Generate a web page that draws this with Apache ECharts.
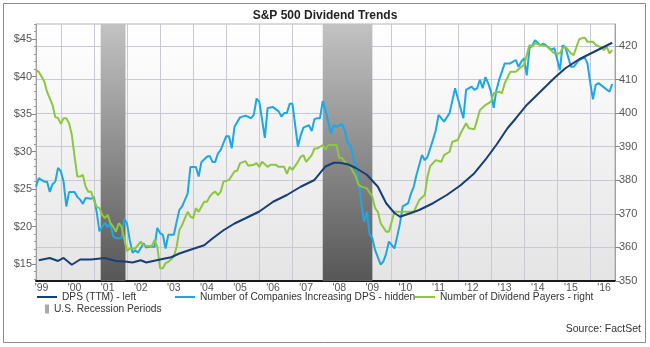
<!DOCTYPE html>
<html><head><meta charset="utf-8">
<script src="https://cdn.jsdelivr.net/npm/echarts@6/dist/echarts.min.js"></script>
<style>html,body{margin:0;padding:0;background:#fff}#c{width:650px;height:347px}</style>
</head><body><div id="c"></div>
<script>
// ---- Data ----
const titleText = 'S&P 500 Dividend Trends';
const sourceText = 'Source: FactSet';
const years = [1999,2000,2001,2002,2003,2004,2005,2006,2007,2008,2009,2010,2011,2012,2013,2014,2015,2016];
const leftTicks = [15,20,25,30,35,40,45];
const rightTicks = [350,360,370,380,390,400,410,420];
const recessionStarts = ['2001-03-15','2007-12-01'];
const recessionEnds = ['2001-12-15','2009-06-01'];

const dpsDates = ['1999-05','1999-09','1999-12','2000-02','2000-05','2000-08','2000-12','2001-05','2001-09',
 '2002-01','2002-03','2002-06','2002-08','2003-01','2003-05','2003-08','2003-12','2004-05','2004-08','2004-12',
 '2005-04','2005-08','2006-01','2006-06','2006-11','2007-04','2007-09','2007-11','2008-01','2008-04','2008-06',
 '2008-09','2008-12','2009-04','2009-08','2009-11','2010-02','2010-04','2010-08','2010-11','2011-04','2011-09',
 '2012-02','2012-07','2012-11','2013-03','2013-07','2013-10','2014-02','2014-07','2014-12','2015-04','2015-09',
 '2016-03','2016-09'];
const dpsValues = [15.5,15.8,15.4,15.8,14.9,15.6,15.6,15.8,15.4,
 15.3,15.2,15.5,15.2,15.6,15.9,16.4,16.9,17.5,18.4,19.5,
 20.4,21.1,22.0,23.3,24.2,25.3,26.2,27.1,28.0,28.5,28.5,
 28.3,27.8,26.9,25.3,23.1,21.8,21.3,21.8,22.2,23.1,24.2,
 25.5,27.1,28.9,30.9,33.1,34.4,36.2,38.0,39.8,41.1,42.3,
 43.4,44.5];

const incDates = [
 '1999-04','1999-05','1999-07','1999-08','1999-09','1999-10','1999-11','1999-12',
 '2000-01','2000-02','2000-03','2000-04','2000-06','2000-07','2000-08','2000-09','2000-10','2000-12',
 '2001-01','2001-02','2001-03','2001-04','2001-05','2001-06','2001-07','2001-08','2001-09','2001-11','2001-12',
 '2002-01','2002-02','2002-03','2002-04','2002-05','2002-07','2002-08','2002-09','2002-11','2002-12',
 '2003-01','2003-02','2003-03','2003-04','2003-06','2003-07','2003-08','2003-09','2003-11','2003-12',
 '2004-01','2004-02','2004-03','2004-04','2004-06','2004-07','2004-08','2004-09','2004-10','2004-11',
 '2005-01','2005-02','2005-03','2005-04','2005-06','2005-08','2005-10','2005-11','2005-12',
 '2006-01','2006-03','2006-04','2006-06','2006-08','2006-09','2006-10','2006-11','2006-12',
 '2007-01','2007-03','2007-04','2007-05','2007-07','2007-08','2007-09','2007-10','2007-11','2007-12',
 '2008-01','2008-03','2008-04','2008-05','2008-07','2008-08','2008-09','2008-10','2008-11','2008-12',
 '2009-01','2009-02','2009-03','2009-04','2009-05','2009-06','2009-07','2009-09','2009-10','2009-11','2009-12',
 '2010-02','2010-03','2010-04','2010-05','2010-07','2010-08','2010-09','2010-10','2010-12',
 '2011-01','2011-02','2011-04','2011-05','2011-06','2011-07','2011-08','2011-10','2011-12',
 '2012-01','2012-03','2012-04','2012-06','2012-07','2012-08','2012-09','2012-10','2012-11','2012-12',
 '2013-01','2013-02','2013-03','2013-04','2013-06','2013-07','2013-08','2013-10','2013-11','2013-12',
 '2014-01','2014-02','2014-03','2014-04','2014-05','2014-07','2014-08','2014-09','2014-11','2014-12',
 '2015-02','2015-03','2015-04','2015-06','2015-07','2015-09','2015-11','2015-12',
 '2016-01','2016-02','2016-03','2016-04','2016-06','2016-08','2016-09'];
const incValues = [
 210,220,216,216,204,213,216,232,
 228,216,187,204,204,198,195,190,197,196,
 198,181,158,163,168,163,167,152,150,150,173,
 167,148,133,136,133,144,139,140,140,162,
 156,154,138,154,154,169,183,187,202,233,
 233,233,222,239,245,246,239,239,249,253,
 269,269,255,280,291,293,290,294,313,
 309,267,302,303,298,292,296,296,307,
 307,257,270,279,282,275,289,290,290,310,
 299,272,282,280,283,276,261,259,245,233,
 216,191,169,181,154,150,136,119,123,132,146,
 138,152,167,187,191,202,210,224,247,
 241,245,265,276,294,290,286,296,325,
 313,290,323,327,323,325,335,325,338,331,
 321,302,323,335,354,354,354,358,350,356,
 360,340,372,375,381,375,377,375,370,372,
 346,375,373,350,350,358,361,354,
 332,312,329,331,326,321,330];

const payDates = [
 '1999-04','1999-05','1999-06','1999-07','1999-08','1999-09','1999-10','1999-11','1999-12',
 '2000-01','2000-02','2000-03','2000-04','2000-05','2000-06','2000-07','2000-08','2000-09','2000-10','2000-11','2000-12',
 '2001-01','2001-02','2001-03','2001-04','2001-05','2001-06','2001-07','2001-08','2001-09','2001-10','2001-11',
 '2002-01','2002-02','2002-04','2002-06','2002-07','2002-08','2002-10','2002-11','2002-12',
 '2003-01','2003-02','2003-03','2003-04','2003-06','2003-07','2003-08','2003-09','2003-11','2003-12',
 '2004-01','2004-02','2004-03','2004-05','2004-06','2004-07','2004-08','2004-09','2004-10','2004-11','2004-12',
 '2005-02','2005-04','2005-05','2005-06','2005-08','2005-09','2005-11','2005-12',
 '2006-01','2006-02','2006-04','2006-05','2006-07','2006-08','2006-10','2006-11','2006-12',
 '2007-01','2007-03','2007-04','2007-05','2007-06','2007-08','2007-09','2007-10','2007-12',
 '2008-01','2008-02','2008-05','2008-06','2008-07','2008-08','2008-10','2008-11','2008-12',
 '2009-01','2009-02','2009-04','2009-06','2009-07','2009-08','2009-09','2009-11','2009-12',
 '2010-02','2010-04','2010-09','2010-11',
 '2011-01','2011-02','2011-03','2011-04','2011-05','2011-07','2011-08','2011-10','2011-11',
 '2012-01','2012-02','2012-04','2012-05','2012-07','2012-08','2012-09','2012-11',
 '2013-01','2013-02','2013-04','2013-05','2013-06','2013-08','2013-10','2013-12',
 '2014-01','2014-03','2014-04','2014-05','2014-07','2014-09','2014-10','2014-12',
 '2015-02','2015-03','2015-04','2015-06','2015-07','2015-09','2015-10','2015-11','2015-12',
 '2016-02','2016-03','2016-05','2016-06','2016-07','2016-08','2016-09'];
const payValues = [
 412.9,412.3,410.9,409.4,406.4,404.4,402.4,398.8,398.5,
 396.8,398.5,398.5,397.0,393.5,387.0,381.1,381.1,381.6,378.1,376.6,376.6,
 374.1,372.1,371.7,369.7,368.7,369.7,367.2,366.2,364.7,367.2,366.2,
 358.9,359.7,359.7,361.7,360.7,360.4,360.4,362.2,360.2,
 353.8,353.8,355.3,355.7,357.2,360.2,365.2,366.7,370.6,369.2,
 368.7,371.7,370.6,373.6,373.6,375.1,376.1,376.6,375.6,376.6,379.6,
 380.1,382.6,382.9,385.1,385.7,384.3,384.6,385.1,
 384.0,385.5,384.0,384.6,384.6,384.0,384.0,381.9,384.0,
 383.1,385.5,387.0,387.5,385.5,387.5,389.5,389.5,390.5,
 389.2,390.5,390.5,386.6,386.6,385.5,384.0,382.6,381.1,
 378.6,378.1,377.6,375.1,371.7,370.6,367.2,364.7,364.7,
 370.6,370.6,370.6,374.1,
 375.6,381.1,384.3,385.1,386.0,385.5,387.5,388.5,391.5,
 392.0,394.0,397.0,395.5,395.2,398.0,400.9,402.4,
 403.4,405.9,406.4,405.9,408.9,412.3,412.3,413.8,
 414.3,420.3,419.8,420.8,420.3,420.0,419.3,417.8,
 417.8,419.3,419.8,417.8,417.3,422.0,422.3,422.5,421.3,
 421.3,420.3,419.6,418.8,419.8,417.8,418.8];

const nameDps = 'DPS (TTM) - left';
const nameInc = 'Number of Companies Increasing DPS - hidden';
const namePay = 'Number of Dividend Payers - right';
const nameRec = 'U.S. Recession Periods';

// ---- Chart ----
const FONT = '"Liberation Sans", Arial, sans-serif';
// date string 'YYYY-MM[-DD]' -> decimal year on a linear value axis
const toYear = s => { const p = s.split('-').map(Number); return p[0] + (p[1] - 1) / 12 + ((p[2] || 1) - 1) / 365; };
const pairs = (d, v) => d.map((x, i) => [toYear(x), v[i]]);
const yearStarts = years.slice(1);
const labelPos = years.map(y => toYear(y + '-06'));
const gridColor = '#c9c9d4';
const lblStyle = {color: '#555', fontSize: 11, fontFamily: FONT};
const legendBase = {orient: 'horizontal', itemWidth: 20, itemHeight: 2, icon: 'rect',
  textStyle: {color: '#333', fontSize: 10.2, fontFamily: FONT}, selectedMode: false, padding: 0, itemGap: 3};

const chart = echarts.init(document.getElementById('c'), null, {renderer: 'canvas'});
chart.setOption({
  animation: false,
  backgroundColor: '#fff',
  title: {text: titleText, left: 'center', top: 5, textStyle: {fontSize: 12, fontWeight: 'bold', color: '#222', fontFamily: FONT}},
  graphic: [
    {type: 'rect', shape: {x: 3.5, y: 3.5, width: 642, height: 339}, style: {fill: 'none', stroke: '#8c8c8c', lineWidth: 1}, silent: true, z: -1},
    {type: 'text', right: 9, top: 324, style: {text: sourceText, fill: '#333', font: '10.5px ' + FONT}}
  ],
  legend: [
    Object.assign({}, legendBase, {data: [nameDps], left: 37, top: 292}),
    Object.assign({}, legendBase, {data: [nameInc], left: 175, top: 292}),
    Object.assign({}, legendBase, {data: [namePay], left: 415, top: 292}),
    Object.assign({}, legendBase, {data: [nameRec], left: 45, top: 304, itemWidth: 4, itemHeight: 9, itemGap: 8})
  ],
  grid: {left: 36, right: 35, top: 24, bottom: 66, show: true, borderColor: '#b5b5b5', borderWidth: 1,
    backgroundColor: {type: 'linear', x: 0, y: 0, x2: 0, y2: 1, colorStops: [{offset: 0, color: '#ffffff'}, {offset: 1, color: '#e4e4e4'}]}},
  xAxis: {
    type: 'value', min: toYear('1999-04'), max: toYear('2016-10'),
    axisLine: {show: true, onZero: false, lineStyle: {color: '#1a1a1a', width: 2}},
    axisTick: {show: false, customValues: yearStarts},
    splitLine: {show: true, lineStyle: {color: gridColor, width: 1}},
    axisLabel: Object.assign({customValues: labelPos, margin: 2, hideOverlap: false,
      formatter: v => "'" + String(Math.floor(v)).slice(2)}, lblStyle, {fontSize: 10.5})
  },
  yAxis: [
    {type: 'value', position: 'left', min: 12.73, max: 47.0,
      axisLine: {show: true, lineStyle: {color: '#a0a0a0'}},
      axisTick: {show: true, length: 4, customValues: leftTicks, lineStyle: {color: '#888'}},
      axisLabel: Object.assign({customValues: leftTicks, margin: 4, formatter: v => '$' + v}, lblStyle),
      splitLine: {show: false}},
    {type: 'value', position: 'right', min: 350, max: 426.55,
      axisLine: {show: true, lineStyle: {color: '#a0a0a0'}},
      axisTick: {show: true, length: 5, customValues: rightTicks, lineStyle: {color: '#888'}},
      axisLabel: Object.assign({customValues: rightTicks, margin: 4}, lblStyle),
      splitLine: {show: true, lineStyle: {color: gridColor, width: 1}}},
    {type: 'value', min: 100, max: 400, show: false, splitLine: {show: false}},
    {type: 'value', position: 'left', min: 12.73, max: 47.0,
      axisLine: {show: false}, axisLabel: {show: false}, splitLine: {show: false},
      axisTick: {show: true, length: 2, customValues: [13,14,16,17,18,19,21,22,23,24,26,27,28,29,31,32,33,34,36,37,38,39,41,42,43,44,46,47], lineStyle: {color: '#999'}}}
  ],
  series: [
    {name: nameRec, type: 'line', data: [], yAxisIndex: 1, itemStyle: {color: '#a9a9a9'}, lineStyle: {width: 0},
      markArea: {silent: true, z: 1,
        itemStyle: {color: {type: 'linear', x: 0, y: 0, x2: 0, y2: 1, colorStops: [{offset: 0, color: '#c2c2c2'}, {offset: 1, color: '#575757'}]}},
        data: recessionStarts.map((s, i) => [{xAxis: toYear(s)}, {xAxis: toYear(recessionEnds[i])}])}},
    {name: nameInc, type: 'line', yAxisIndex: 2, data: pairs(incDates, incValues), showSymbol: false, symbol: 'none',
      itemStyle: {color: '#1ca8e6'}, lineStyle: {width: 2, color: '#1ca8e6'}, z: 3},
    {name: namePay, type: 'line', yAxisIndex: 1, data: pairs(payDates, payValues), showSymbol: false, symbol: 'none',
      itemStyle: {color: '#8dc63f'}, lineStyle: {width: 2, color: '#8dc63f'}, z: 4},
    {name: nameDps, type: 'line', yAxisIndex: 0, data: pairs(dpsDates, dpsValues), showSymbol: false, symbol: 'none',
      itemStyle: {color: '#163f78'}, lineStyle: {width: 2, color: '#163f78'}, z: 5}
  ]
});
</script></body></html>
